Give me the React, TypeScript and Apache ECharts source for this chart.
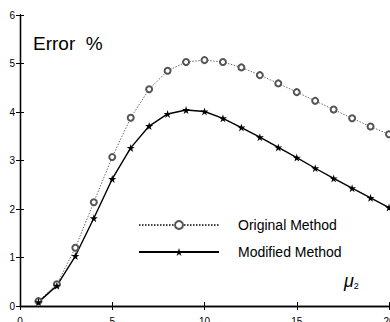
import React, { useEffect, useRef } from "react";
import * as echarts from "echarts";

const xValues = [1, 2, 3, 4, 5, 6, 7, 8, 9, 10, 11, 12, 13, 14, 15, 16, 17, 18, 19, 20];
const originalMethod = [0.1, 0.45, 1.2, 2.14, 3.07, 3.88, 4.47, 4.85, 5.03, 5.07, 5.03, 4.92, 4.76, 4.59, 4.41, 4.23, 4.05, 3.87, 3.7, 3.54];
const modifiedMethod = [0.08, 0.42, 1.03, 1.81, 2.62, 3.26, 3.71, 3.96, 4.04, 4.01, 3.87, 3.68, 3.48, 3.27, 3.06, 2.84, 2.63, 2.43, 2.23, 2.03];
const seriesNames = ["Original Method", "Modified Method"];
const yTitle = "Error  %";

const starPath =
  "path://M50,0 L61,35 L98,35 L68,57 L79,92 L50,70 L21,92 L32,57 L2,35 L39,35 Z";

export default function App() {
  const ref = useRef<HTMLDivElement>(null);
  useEffect(() => {
    if (!ref.current) return;
    const chart = echarts.init(ref.current, null, { renderer: "svg" });
    const font = "'Liberation Sans', Arial, sans-serif";
    const axisCommon = {
      axisLine: { show: true, lineStyle: { color: "#000", width: 1.3 } },
      axisTick: { show: true, inside: true, length: 4, lineStyle: { color: "#000" } },
      splitLine: { show: false },
    };
    chart.setOption({
      animation: false,
      backgroundColor: "#fff",
      textStyle: { fontFamily: font },
      grid: {
        left: 20,
        right: 1,
        top: 15,
        bottom: 16,
        containLabel: false,
        outerBoundsMode: "none",
      },
      xAxis: [
        {
          type: "value",
          min: 0,
          max: 20,
          interval: 5,
          position: "bottom",
          ...axisCommon,
          axisLabel: {
            color: "#000",
            fontSize: 10,
            margin: 10,
            fontFamily: font,
            alignMinLabel: "center",
            alignMaxLabel: "center",
          },
        },
        {
          type: "value",
          min: 0,
          max: 20,
          interval: 5,
          position: "top",
          ...axisCommon,
          axisLabel: { show: false },
        },
      ],
      yAxis: [
        {
          type: "value",
          min: 0,
          max: 6,
          interval: 1,
          position: "left",
          ...axisCommon,
          axisLabel: { color: "#000", fontSize: 10, margin: 5, fontFamily: font },
        },
        {
          type: "value",
          min: 0,
          max: 6,
          interval: 1,
          position: "right",
          ...axisCommon,
          axisLabel: { show: false },
        },
      ],
      legend: {
        orient: "vertical",
        left: 133,
        top: 213,
        itemWidth: 80,
        itemHeight: 10,
        itemGap: 13,
        textStyle: { fontSize: 14, color: "#000", fontFamily: font, padding: [0, 0, 0, 14] },
        data: seriesNames,
      },
      graphic: [
        {
          type: "text",
          left: 33,
          top: 34,
          style: { text: yTitle, fontSize: 19, fill: "#000", fontFamily: font },
        },
        {
          type: "text",
          left: 344,
          top: 272,
          style: {
            text: "{m|μ}{s|2}",
            rich: {
              m: { fontSize: 18, fontStyle: "italic", fill: "#000", fontFamily: font },
              s: { fontSize: 9, fill: "#000", fontFamily: font, padding: [10, 0, 0, 0] },
            },
          },
        },
      ],
      series: [
        {
          name: seriesNames[0],
          type: "line",
          data: xValues.map((x, i) => [x, originalMethod[i]]),
          symbol: "emptyCircle",
          symbolSize: 6,
          lineStyle: { color: "#444", width: 0.8, type: [1.5, 1.5] },
          itemStyle: { color: "#555", borderColor: "#555", borderWidth: 0.7 },
        },
        {
          name: seriesNames[1],
          type: "line",
          data: xValues.map((x, i) => [x, modifiedMethod[i]]),
          symbol: starPath,
          symbolSize: 8,
          lineStyle: { color: "#000", width: 1.4 },
          itemStyle: { color: "#000", borderColor: "#000", borderWidth: 0 },
        },
      ],
    });
    return () => chart.dispose();
  }, []);
  return (
    <div
      ref={ref}
      style={{ position: "fixed", left: 0, top: 0, width: 390, height: 322, background: "#fff" }}
    />
  );
}
